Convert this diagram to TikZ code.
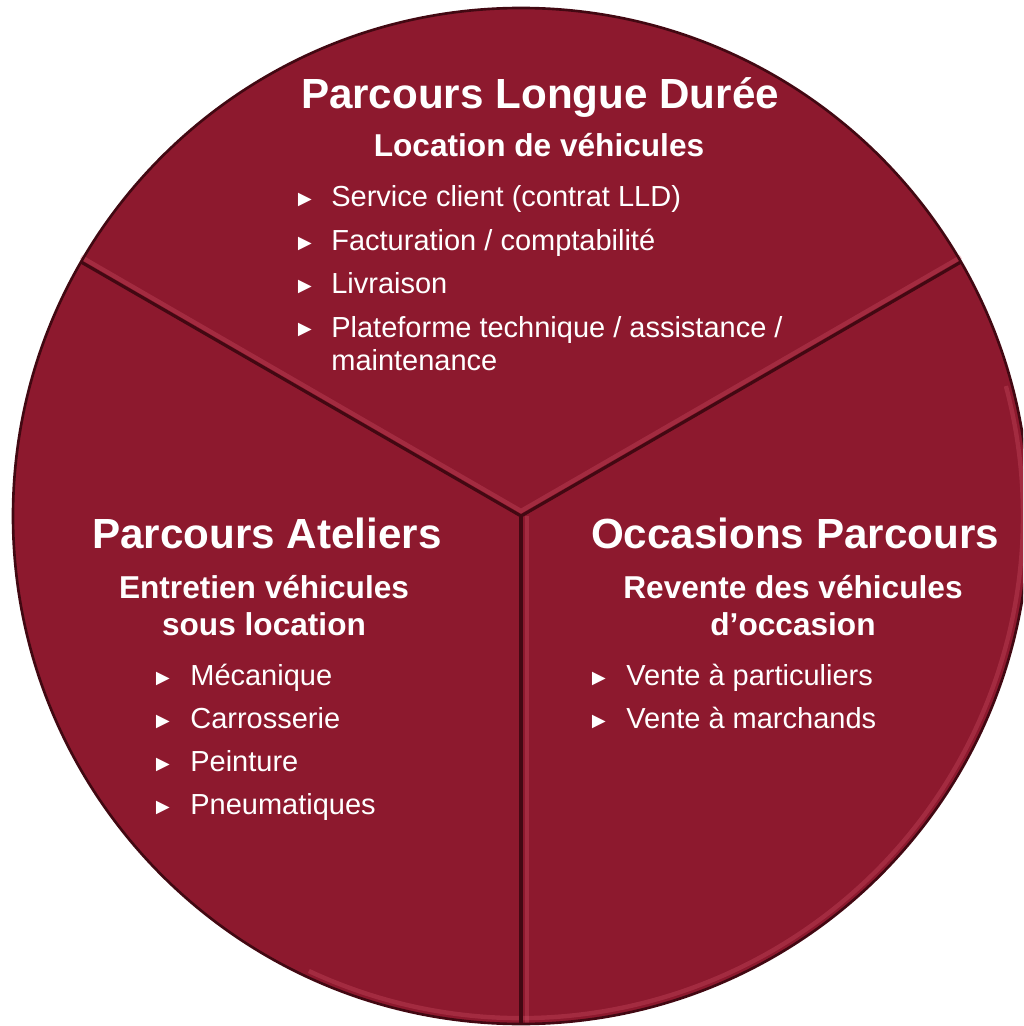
\documentclass[tikz,border=0pt]{standalone}
\usepackage{fontspec}
\setmainfont{Liberation Sans}
\definecolor{bordeaux}{RGB}{141,25,46}
\definecolor{bordeauxfonce}{RGB}{66,8,18}
\definecolor{reflet}{RGB}{214,86,108}
\begin{document}
\begin{tikzpicture}
      [x=0.02cm,y=0.02cm,
       titre/.style={text=white,font=\bfseries\fontsize{24}{28}\selectfont,anchor=base,inner sep=0pt},
       soustitre/.style={text=white,font=\bfseries\fontsize{18}{21}\selectfont,anchor=base,align=center,inner sep=0pt},
       item/.style={text=white,font=\fontsize{16.5}{19.3}\selectfont,anchor=base west,align=left,inner sep=0pt},
       puce/.style={text=white,font=\fontsize{13}{13}\selectfont,anchor=base,inner sep=0pt},
       arete/.style={draw=bordeauxfonce,line width=1.8pt},
       lueur/.style={draw=reflet,line width=2.5pt,opacity=0.3}]
      \clip (0,0) rectangle (1023,-1026);
      \coordinate (C) at (521,-516);
      \fill[bordeaux] (C) circle (508);
      \path (C) ++(150:508) coordinate (G) (C) ++(30:508) coordinate (D) (C) ++(270:508) coordinate (B);

      \draw[lueur] (C) ++(-115:502) arc[start angle=-115,end angle=15,radius=502];
      \draw[lueur] ([shift={(0,5)}]G) -- ([shift={(0,5)}]C) -- ([shift={(0,5)}]D);
      \draw[lueur] ([shift={(6,0)}]C) -- ([shift={(6,0)}]B);
      \draw[arete] (G) -- (C) -- (D);
      \draw[arete] (C) -- (B);
      \draw[bordeauxfonce,line width=1.5pt] (C) circle (508);

      \node[titre] (lld) at (540,-109) {Parcours Longue Durée};
      \node[soustitre] (lldsous) at (539,-157) {Location de véhicules};
      \foreach \texte [count=\i] in {{Service client (contrat LLD)},{Facturation / comptabilité},{Livraison}} {
        \node[item] (lld\i) at (331,{-207-43.5*(\i-1)}) {\texte};
        \node[puce] (lldp\i) at (305,{-207-43.5*(\i-1)}) {►};
      }
      \node[item] (lld4) at (331,-371) {Plateforme technique / assistance /\\maintenance};
      \node[puce] (lldp4) at (305,-337) {►};

      \node[titre] (ate) at (267,-548) {Parcours Ateliers};
      \node[soustitre] (atesous) at (264,-635) {Entretien véhicules\\sous location};
      \foreach \texte [count=\i] in {Mécanique,Carrosserie,Peinture,Pneumatiques} {
        \node[item] (ate\i) at (190,{-685-43*(\i-1)}) {\texte};
        \node[puce] (atep\i) at (163,{-685-43*(\i-1)}) {►};
      }

      \node[titre] (occ) at (795,-548) {Occasions Parcours};
      \node[soustitre] (occsous) at (793,-635) {Revente des véhicules\\d’occasion};
      \foreach \texte [count=\i] in {Vente à particuliers,Vente à marchands} {
        \node[item] (occ\i) at (626,{-685-43*(\i-1)}) {\texte};
        \node[puce] (occp\i) at (599,{-685-43*(\i-1)}) {►};
      }
    \end{tikzpicture}
\end{document}
